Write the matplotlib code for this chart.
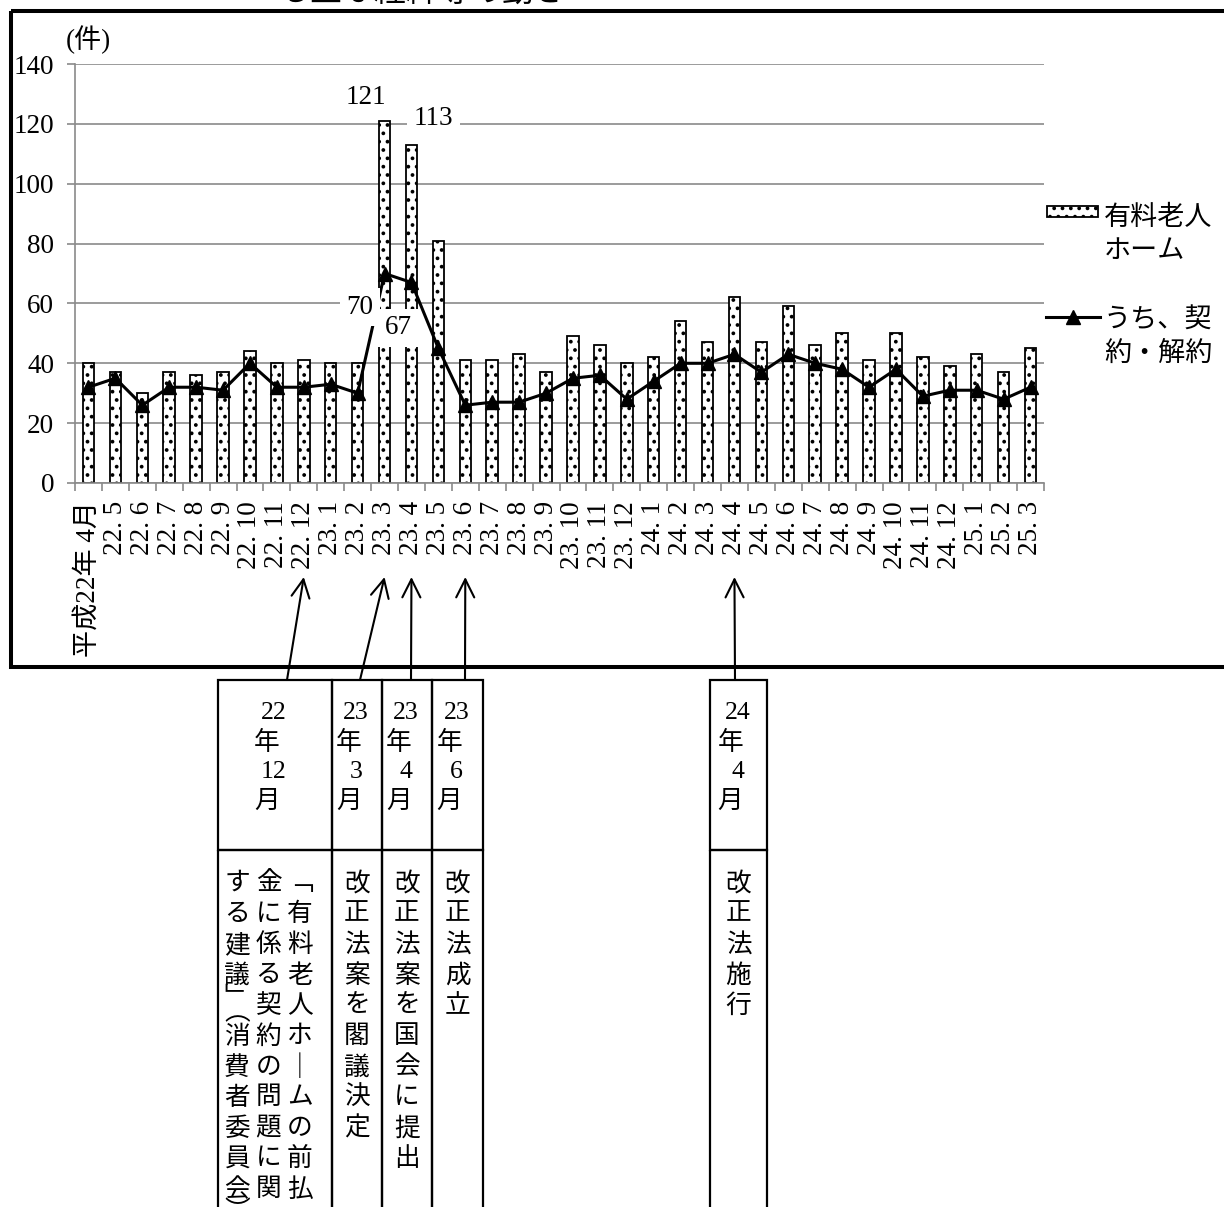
import numpy as np
import matplotlib
matplotlib.use('Agg')
import matplotlib.pyplot as plt
from matplotlib.patches import Rectangle

plt.rcParams['font.family'] = ['Liberation Serif', 'Noto Sans CJK JP']
plt.rcParams['hatch.linewidth'] = 1.5

# monthly counts
months = ['平成22年 4月', '22. 5', '22. 6', '22. 7', '22. 8', '22. 9', '22. 10',
          '22. 11', '22. 12', '23. 1', '23. 2', '23. 3', '23. 4', '23. 5', '23. 6',
          '23. 7', '23. 8', '23. 9', '23. 10', '23. 11', '23. 12', '24. 1', '24. 2',
          '24. 3', '24. 4', '24. 5', '24. 6', '24. 7', '24. 8', '24. 9', '24. 10',
          '24. 11', '24. 12', '25. 1', '25. 2', '25. 3']
homes = [40, 37, 30, 37, 36, 37, 44, 40, 41, 40, 40, 121, 113, 81, 41, 41, 43, 37,
         49, 46, 40, 42, 54, 47, 62, 47, 59, 46, 50, 41, 50, 42, 39, 43, 37, 45]
contracts = [32, 35, 26, 32, 32, 31, 40, 32, 32, 33, 30, 70, 67, 45, 26, 27, 27, 30,
             35, 36, 28, 34, 40, 40, 43, 37, 43, 40, 38, 32, 38, 29, 31, 31, 28, 32]
labelled = [11, 12]
series_names = ['有料老人\nホーム', 'うち、契\n約・解約']

# events shown in the table below the chart
event_months = [8, 11, 12, 14, 24]
event_dates = [['22', '年', '12', '月'], ['23', '年', '3', '月'], ['23', '年', '4', '月'],
               ['23', '年', '6', '月'], ['24', '年', '4', '月']]
event_texts = [['「有料老人ホームの前払', '金に係る契約の問題に関', 'する建議」(消費者委員会)'],
               ['改正法案を閣議決定'], ['改正法案を国会に提出'], ['改正法成立'], ['改正法施行']]
cells = [(218, 332), (332, 382), (382, 432), (432, 483), (710, 767)]
arrow_tails = [287, 360, 411, 465, 735]

W, H = 1224, 1207
GRID = '#8a8a8a'
FS = 19.5

fig = plt.figure(figsize=(W / 100, H / 100), dpi=100)
ax = fig.add_axes([75 / W, 1 - 483 / H, 969 / W, 419 / H])

x = np.arange(len(months))
ax.bar(x, homes, width=0.43, color='white', edgecolor='black', hatch='..',
       linewidth=1.3, zorder=2)
ax.plot(x, contracts, color='black', lw=2.2, marker='^', ms=10, zorder=3)

ax.set_xlim(-0.5, len(months) - 0.5)
ax.set_ylim(0, 140)
ax.set_yticks(range(0, 141, 20))
ax.yaxis.grid(True, color=GRID, lw=1.2)
ax.set_axisbelow(True)
for s in ['top', 'right']:
    ax.spines[s].set_visible(False)
for s in ['left', 'bottom']:
    ax.spines[s].set_color(GRID)
    ax.spines[s].set_linewidth(1.2)

ax.set_xticks(x)
ax.set_xticklabels(months, rotation=90, va='top', ha='center', fontsize=FS)
ax.set_xticks(np.arange(-0.5, len(months)), minor=True)
ax.tick_params(axis='x', which='major', length=0, pad=13)
ax.tick_params(axis='x', which='minor', length=6, color=GRID, width=1.2)
ax.tick_params(axis='y', length=6, color=GRID, width=1.2, pad=9, labelsize=FS)

# data labels (white boxes hide what is behind them)
offsets = {11: [(-18.5, 23.8), (-24.5, -33.5)], 12: [(21.6, 26.8), (-13.4, -45.5)]}
for i in labelled:
    for v, off in zip([homes[i], contracts[i]], offsets[i]):
        ax.annotate(str(v), xy=(i, v), xytext=off, textcoords='offset pixels',
                    ha='center', va='center', fontsize=FS, zorder=6,
                    bbox=dict(boxstyle='square,pad=0.25', fc='white', ec='none'))

# overlay in pixel coordinates
ov = fig.add_axes([0, 0, 1, 1])
ov.set_xlim(0, W)
ov.set_ylim(H, 0)
ov.axis('off')
ov.patch.set_alpha(0)

ov.text(278, 0.5, 'る主な経緯等の動き', fontsize=23, va='baseline', ha='left')
ov.add_patch(Rectangle((10.5, 11), 1300, 656, fill=False, ec='black', lw=2.9))
ov.text(88, 40, '(件)', fontsize=FS, ha='center', va='center')

# legend
ov.add_patch(Rectangle((1047, 206), 51, 11, fc='white', ec='black', hatch='..', lw=1.3))
ov.text(1104, 206, series_names[0], fontsize=FS, ha='left', va='top', linespacing=1.42)
ov.plot([1046, 1100], [317, 317], color='black', lw=2.2)
ov.plot([1073], [317], marker='^', ms=10, color='black')
ov.text(1104, 309, series_names[1], fontsize=FS, ha='left', va='top', linespacing=1.42)

# table
vert = {'「': '﹁', '」': '﹂', '(': '︵', ')': '︶', 'ー': '｜'}
half = {'」', '(', ')'}
step = 30.6
for k, ((x0, x1), dates, texts) in enumerate(zip(cells, event_dates, event_texts)):
    ov.add_patch(Rectangle((x0, 680), x1 - x0, 170, fill=False, ec='black', lw=1.6))
    ov.add_patch(Rectangle((x0, 850), x1 - x0, 400, fill=False, ec='black', lw=1.6))
    cx = (x0 + x1) / 2
    for j, t in enumerate(dates):
        dx = -1 if t.isdigit() else -8
        ov.text(cx + dx, 713 + j * 29.7, t, fontsize=18.5, ha='center', va='center')
    for c, line in enumerate(texts):
        colx = x1 - 32 - c * 31.5 if len(texts) > 1 else cx
        y = 884 - step / 2
        for ch in line:
            a = 0.5 if ch in half else 1.0
            ov.text(colx, y + a * step / 2, vert.get(ch, ch), fontsize=18.5,
                    ha='center', va='center')
            y += a * step

for i, tail in zip(event_months, arrow_tails):
    ov.annotate('', xy=(i, 577), xycoords=(ax.transData, ov.transData),
                xytext=(tail, 680), textcoords='data',
                arrowprops=dict(arrowstyle='->,head_length=1.3,head_width=0.65',
                                mutation_scale=10, lw=1.5, color='black',
                                shrinkA=0, shrinkB=0))

fig.savefig('out.png', dpi=100)
